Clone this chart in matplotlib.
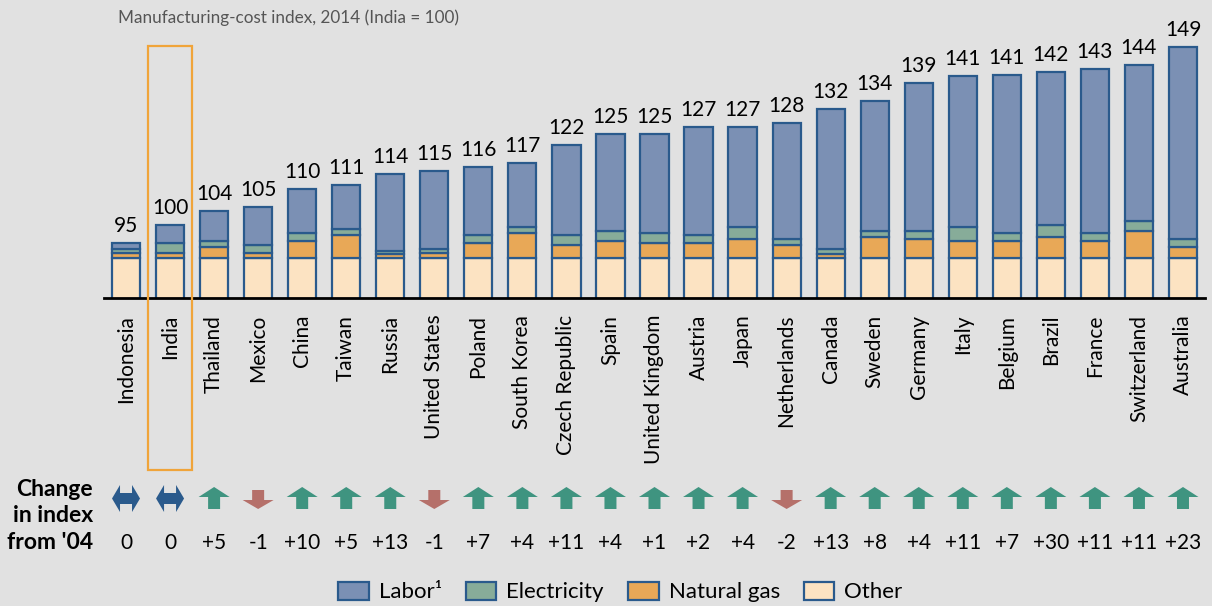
import matplotlib.pyplot as plt
import matplotlib.transforms as mtransforms
from matplotlib.patches import Polygon, Rectangle, Patch

plt.rcParams['font.family'] = ['Lato', 'DejaVu Sans']

# datos
countries = ['Indonesia', 'India', 'Thailand', 'Mexico', 'China', 'Taiwan', 'Russia',
             'United States', 'Poland', 'South Korea', 'Czech Republic', 'Spain',
             'United Kingdom', 'Austria', 'Japan', 'Netherlands', 'Canada', 'Sweden',
             'Germany', 'Italy', 'Belgium', 'Brazil', 'France', 'Switzerland', 'Australia']
totals = [95, 100, 104, 105, 110, 111, 114, 115, 116, 117, 122, 125, 125, 127, 127,
          128, 132, 134, 139, 141, 141, 142, 143, 144, 149]
other = [91, 91, 91, 91, 91, 91, 91, 91, 91, 91, 91, 91, 91, 91, 91, 91, 91, 91,
         91, 91, 91, 91, 91, 91, 91]
gas = [1.4, 1.4, 3.0, 1.4, 4.7, 6.3, 1.1, 1.4, 4.0, 6.9, 3.6, 4.7, 4.1, 4.1, 5.2,
       3.6, 1.0, 5.8, 5.2, 4.7, 4.7, 5.8, 4.7, 7.5, 3.0]
electricity = [1.1, 2.8, 1.7, 2.2, 2.2, 1.6, 0.9, 1.1, 2.3, 1.6, 2.7, 2.8, 2.8, 2.2,
               3.4, 1.7, 1.5, 1.6, 2.2, 3.9, 2.2, 3.3, 2.2, 2.7, 2.2]
labor = [1.5, 4.8, 8.3, 10.4, 12.1, 12.1, 21.0, 21.5, 18.7, 17.5, 24.7, 26.5, 27.1,
         29.7, 27.4, 31.7, 38.5, 35.6, 40.6, 41.4, 43.4, 41.9, 45.1, 42.8, 52.8]
change = ['0', '0', '+5', '-1', '+10', '+5', '+13', '-1', '+7', '+4', '+11', '+4', '+1',
          '+2', '+4', '-2', '+13', '+8', '+4', '+11', '+7', '+30', '+11', '+11', '+23']
direction = ['flat', 'flat', 'up', 'down', 'up', 'up', 'up', 'down', 'up', 'up', 'up',
             'up', 'up', 'up', 'up', 'down', 'up', 'up', 'up', 'up', 'up', 'up', 'up',
             'up', 'up']

bg = '#e1e1e1'
edge = '#2a5a8c'
c_labor = '#7b90b4'
c_elec = '#87ac99'
c_gas = '#e8a857'
c_other = '#fce3c2'
fs = 15

n = len(countries)
x = list(range(n))
W, H = 1212, 606

fig = plt.figure(figsize=(12.12, 6.06), dpi=100, facecolor=bg)

# --- grafico de barras ---
ax = fig.add_axes([104 / W, 1 - 298 / H, 1101 / W, 273 / H], facecolor=bg)
bw = 0.64
b1 = other
b2 = [o + g for o, g in zip(other, gas)]
b3 = [v + e for v, e in zip(b2, electricity)]
kw = dict(width=bw, edgecolor=edge, linewidth=1.6)
ax.bar(x, other, color=c_other, **kw)
ax.bar(x, gas, bottom=b1, color=c_gas, **kw)
ax.bar(x, electricity, bottom=b2, color=c_elec, **kw)
ax.bar(x, labor, bottom=b3, color=c_labor, **kw)

for i in x:
    ax.annotate(str(totals[i]), (i, b3[i] + labor[i]), xytext=(0, 5),
                textcoords='offset points', ha='center', va='bottom', fontsize=fs)

ax.set_xlim(-0.5, n - 0.5)
ax.set_ylim(80, 155)
ax.set_yticks([])
ax.set_xticks(x)
ax.set_xticklabels(countries, rotation=90, fontsize=fs, va='top', ha='center')
ax.tick_params(axis='x', length=0, pad=12)
for s in ['top', 'right', 'left']:
    ax.spines[s].set_visible(False)
ax.spines['bottom'].set_linewidth(2)
ax.spines['bottom'].set_color('black')

fig.text(118 / W, 1 - 18 / H, 'Manufacturing-cost index, 2014 (India = 100)',
         fontsize=12.3, color='#555555', va='center')

# recuadro de India
tr = mtransforms.blended_transform_factory(ax.transData, fig.transFigure)
fig.add_artist(Rectangle((1 - 0.5, 1 - 470 / H), 1.0, 424 / H, transform=tr,
                         fill=False, edgecolor='#f0a43a', linewidth=1.6, clip_on=False))

# --- fila de cambios ---
ax2 = fig.add_axes([104 / W, 1 - 560 / H, 1101 / W, 90 / H])
ax2.set_xlim(-0.5, n - 0.5)
ax2.set_ylim(560, 470)
ax2.axis('off')
u = 1 / 44.04  # unidades x por pixel


def arrow_pts(kind, cx):
    if kind == 'up':
        return [(cx, 487), (cx + 15.5 * u, 497), (cx + 6 * u, 497), (cx + 6 * u, 509),
                (cx - 6 * u, 509), (cx - 6 * u, 497), (cx - 15.5 * u, 497)]
    if kind == 'down':
        return [(cx, 509), (cx + 15.5 * u, 500), (cx + 6 * u, 500), (cx + 6 * u, 490),
                (cx - 6 * u, 490), (cx - 6 * u, 500), (cx - 15.5 * u, 500)]
    return [(cx - 14 * u, 498.5), (cx - 6 * u, 485), (cx - 6 * u, 493), (cx + 6 * u, 493),
            (cx + 6 * u, 485), (cx + 14 * u, 498.5), (cx + 6 * u, 512), (cx + 6 * u, 504),
            (cx - 6 * u, 504), (cx - 6 * u, 512)]


colors = {'up': '#3f9480', 'down': '#b5706a', 'flat': '#2a5a8c'}
for i in x:
    ax2.add_patch(Polygon(arrow_pts(direction[i], i), closed=True,
                          facecolor=colors[direction[i]], edgecolor='none'))
    ax2.text(i, 543, change[i], ha='center', va='center', fontsize=fs)

fig.text(93 / W, 1 - 516 / H, "Change\nin index\nfrom '04", ha='right', va='center',
         fontsize=16.5, fontweight='bold', linespacing=1.33)

# leyenda
handles = [Patch(facecolor=c, edgecolor=edge, linewidth=1.6)
           for c in [c_labor, c_elec, c_gas, c_other]]
fig.legend(handles, ['Labor\u00b9', 'Electricity', 'Natural gas', 'Other'],
           loc='center', bbox_to_anchor=(0.512, 1 - 592 / H), ncol=4, frameon=False,
           fontsize=16, handlelength=1.36, handleheight=0.9, columnspacing=1.1,
           handletextpad=0.45)

fig.savefig('out.png', dpi=100, facecolor=bg)
